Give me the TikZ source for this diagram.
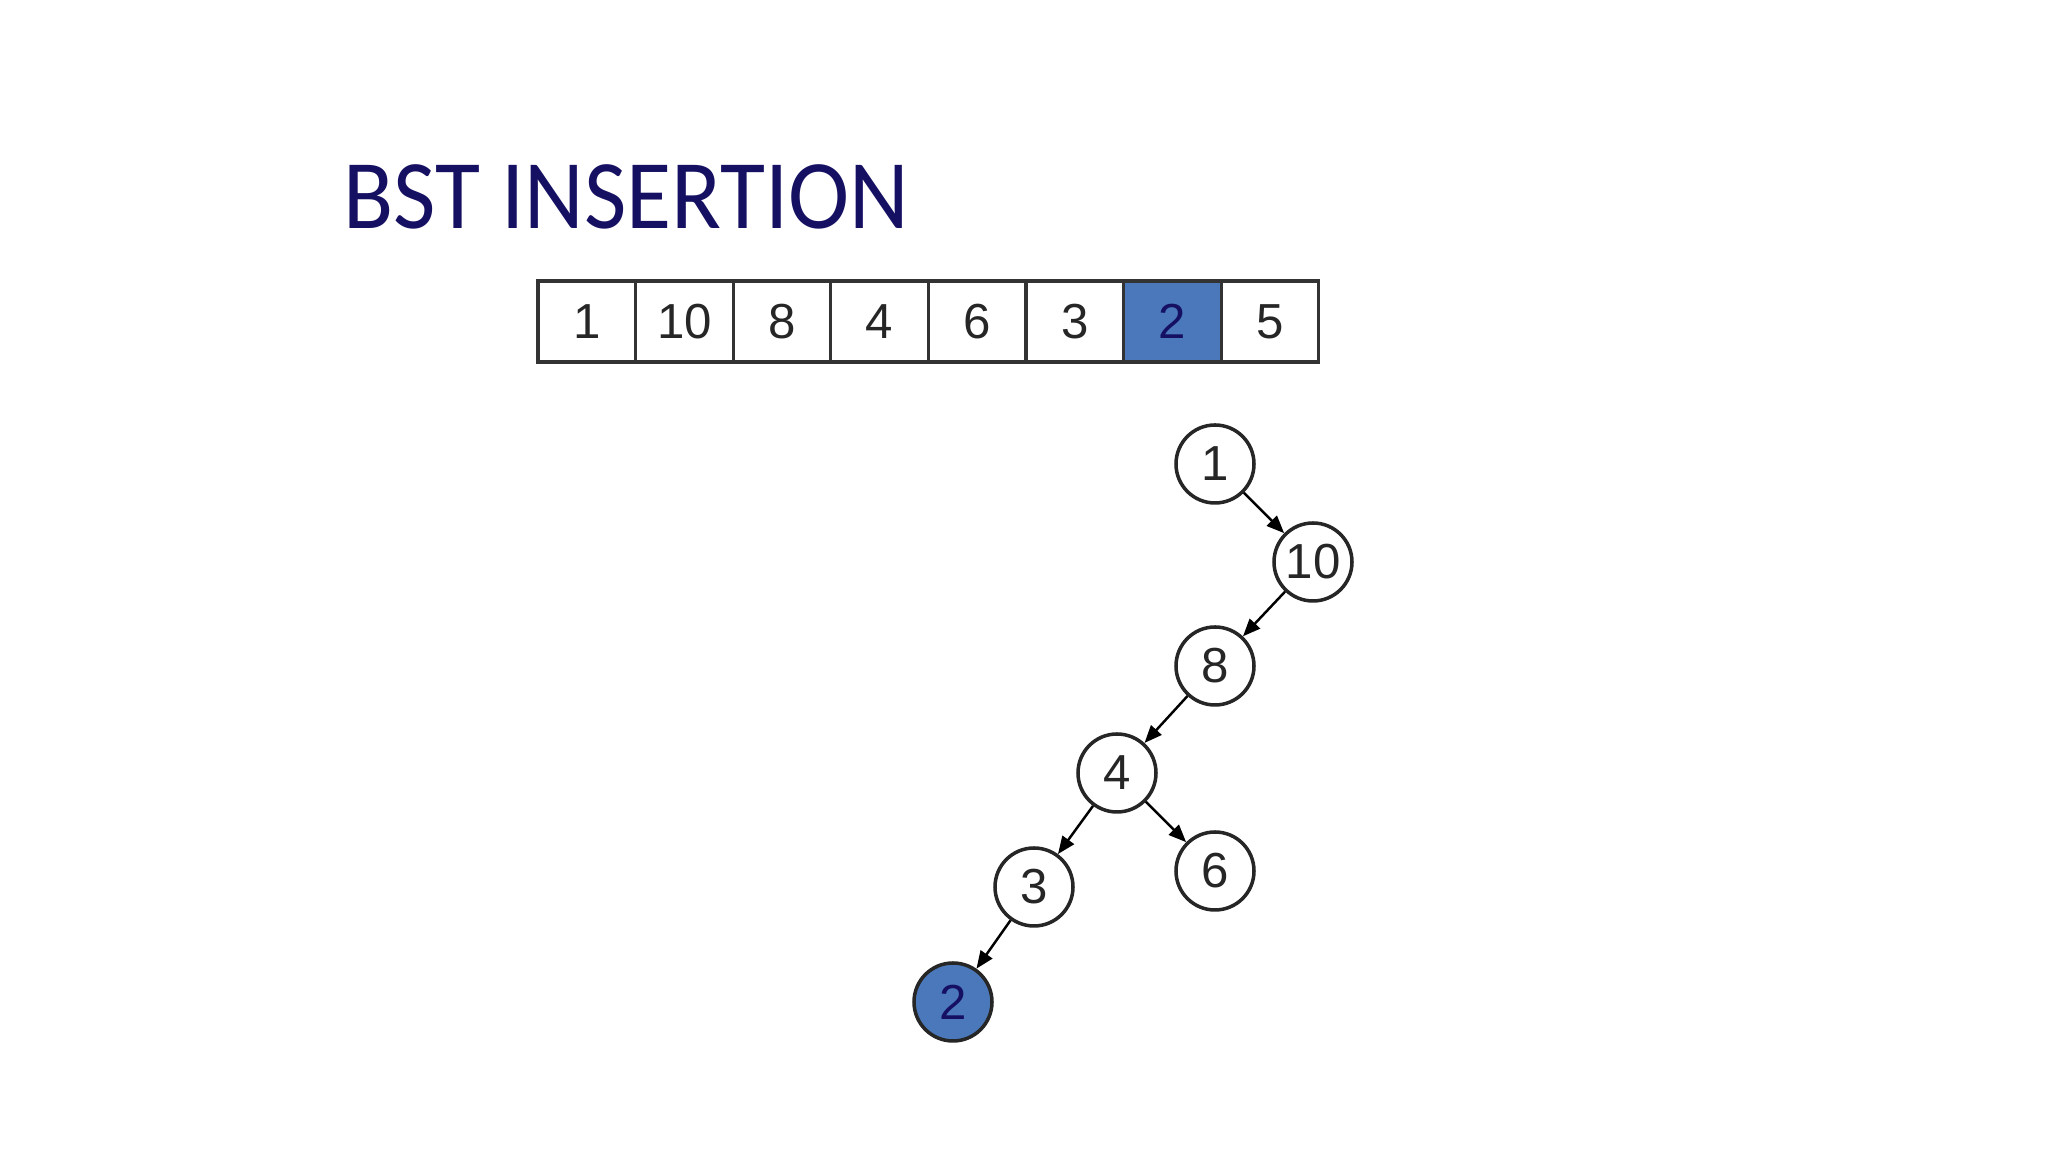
\documentclass[tikz,border=0pt]{standalone}
\usepackage{fontspec}
\setmainfont{Liberation Sans}
\newfontfamily\titlefont{Carlito}
\usepackage{tikz}
\usetikzlibrary{arrows.meta}
\definecolor{titleblue}{RGB}{22,16,98}
\definecolor{markblue}{RGB}{74,120,186}
\tikzset{>/.tip={Triangle[length=5pt,width=4pt]},
  cell/.style={draw=black!80,line width=0.9pt,minimum width=0.976cm,minimum height=0.81cm,inner sep=0pt,text=black!85,font=\fontsize{14}{14}\selectfont},
  key/.style={draw=black!85,line width=1pt,circle,minimum size=0.78cm,inner sep=0pt,text=black!85,font=\fontsize{14}{14}\selectfont},
  marked/.style={fill=markblue,text=titleblue}}

\begin{document}
\begin{tikzpicture}
\useasboundingbox (0,0) rectangle (20.48,11.52);
\node[anchor=base west,inner sep=0pt,text=titleblue,xscale=0.937,transform shape] (title) at (3.43,9.23) {\titlefont\fontsize{28}{28}\selectfont BST INSERTION};

\node[cell] (a1) at (5.868,8.305) {1};
\node[cell] (a2) at (6.844,8.305) {10};
\node[cell] (a3) at (7.820,8.305) {8};
\node[cell] (a4) at (8.796,8.305) {4};
\node[cell] (a5) at (9.772,8.305) {6};
\node[cell] (a6) at (10.748,8.305) {3};
\node[cell,marked] (a7) at (11.724,8.305) {2};
\node[cell] (a8) at (12.700,8.305) {5};

\node[key] (k1) at (12.15,6.88) {1};
\node[key] (k10) at (13.13,5.90) {10};
\node[key] (k8) at (12.15,4.86) {8};
\node[key] (k4) at (11.17,3.79) {4};
\node[key] (k3) at (10.34,2.65) {3};
\node[key] (k6) at (12.15,2.81) {6};
\node[key,marked] (k2) at (9.53,1.50) {2};

\path[->,line width=0.7pt] (k1) edge (k10);
\path[->,line width=0.7pt] (k10) edge (k8);
\path[->,line width=0.7pt] (k8) edge (k4);
\path[->,line width=0.7pt] (k4) edge (k3);
\path[->,line width=0.7pt] (k4) edge (k6);
\path[->,line width=0.7pt] (k3) edge (k2);
\end{tikzpicture}
\end{document}
